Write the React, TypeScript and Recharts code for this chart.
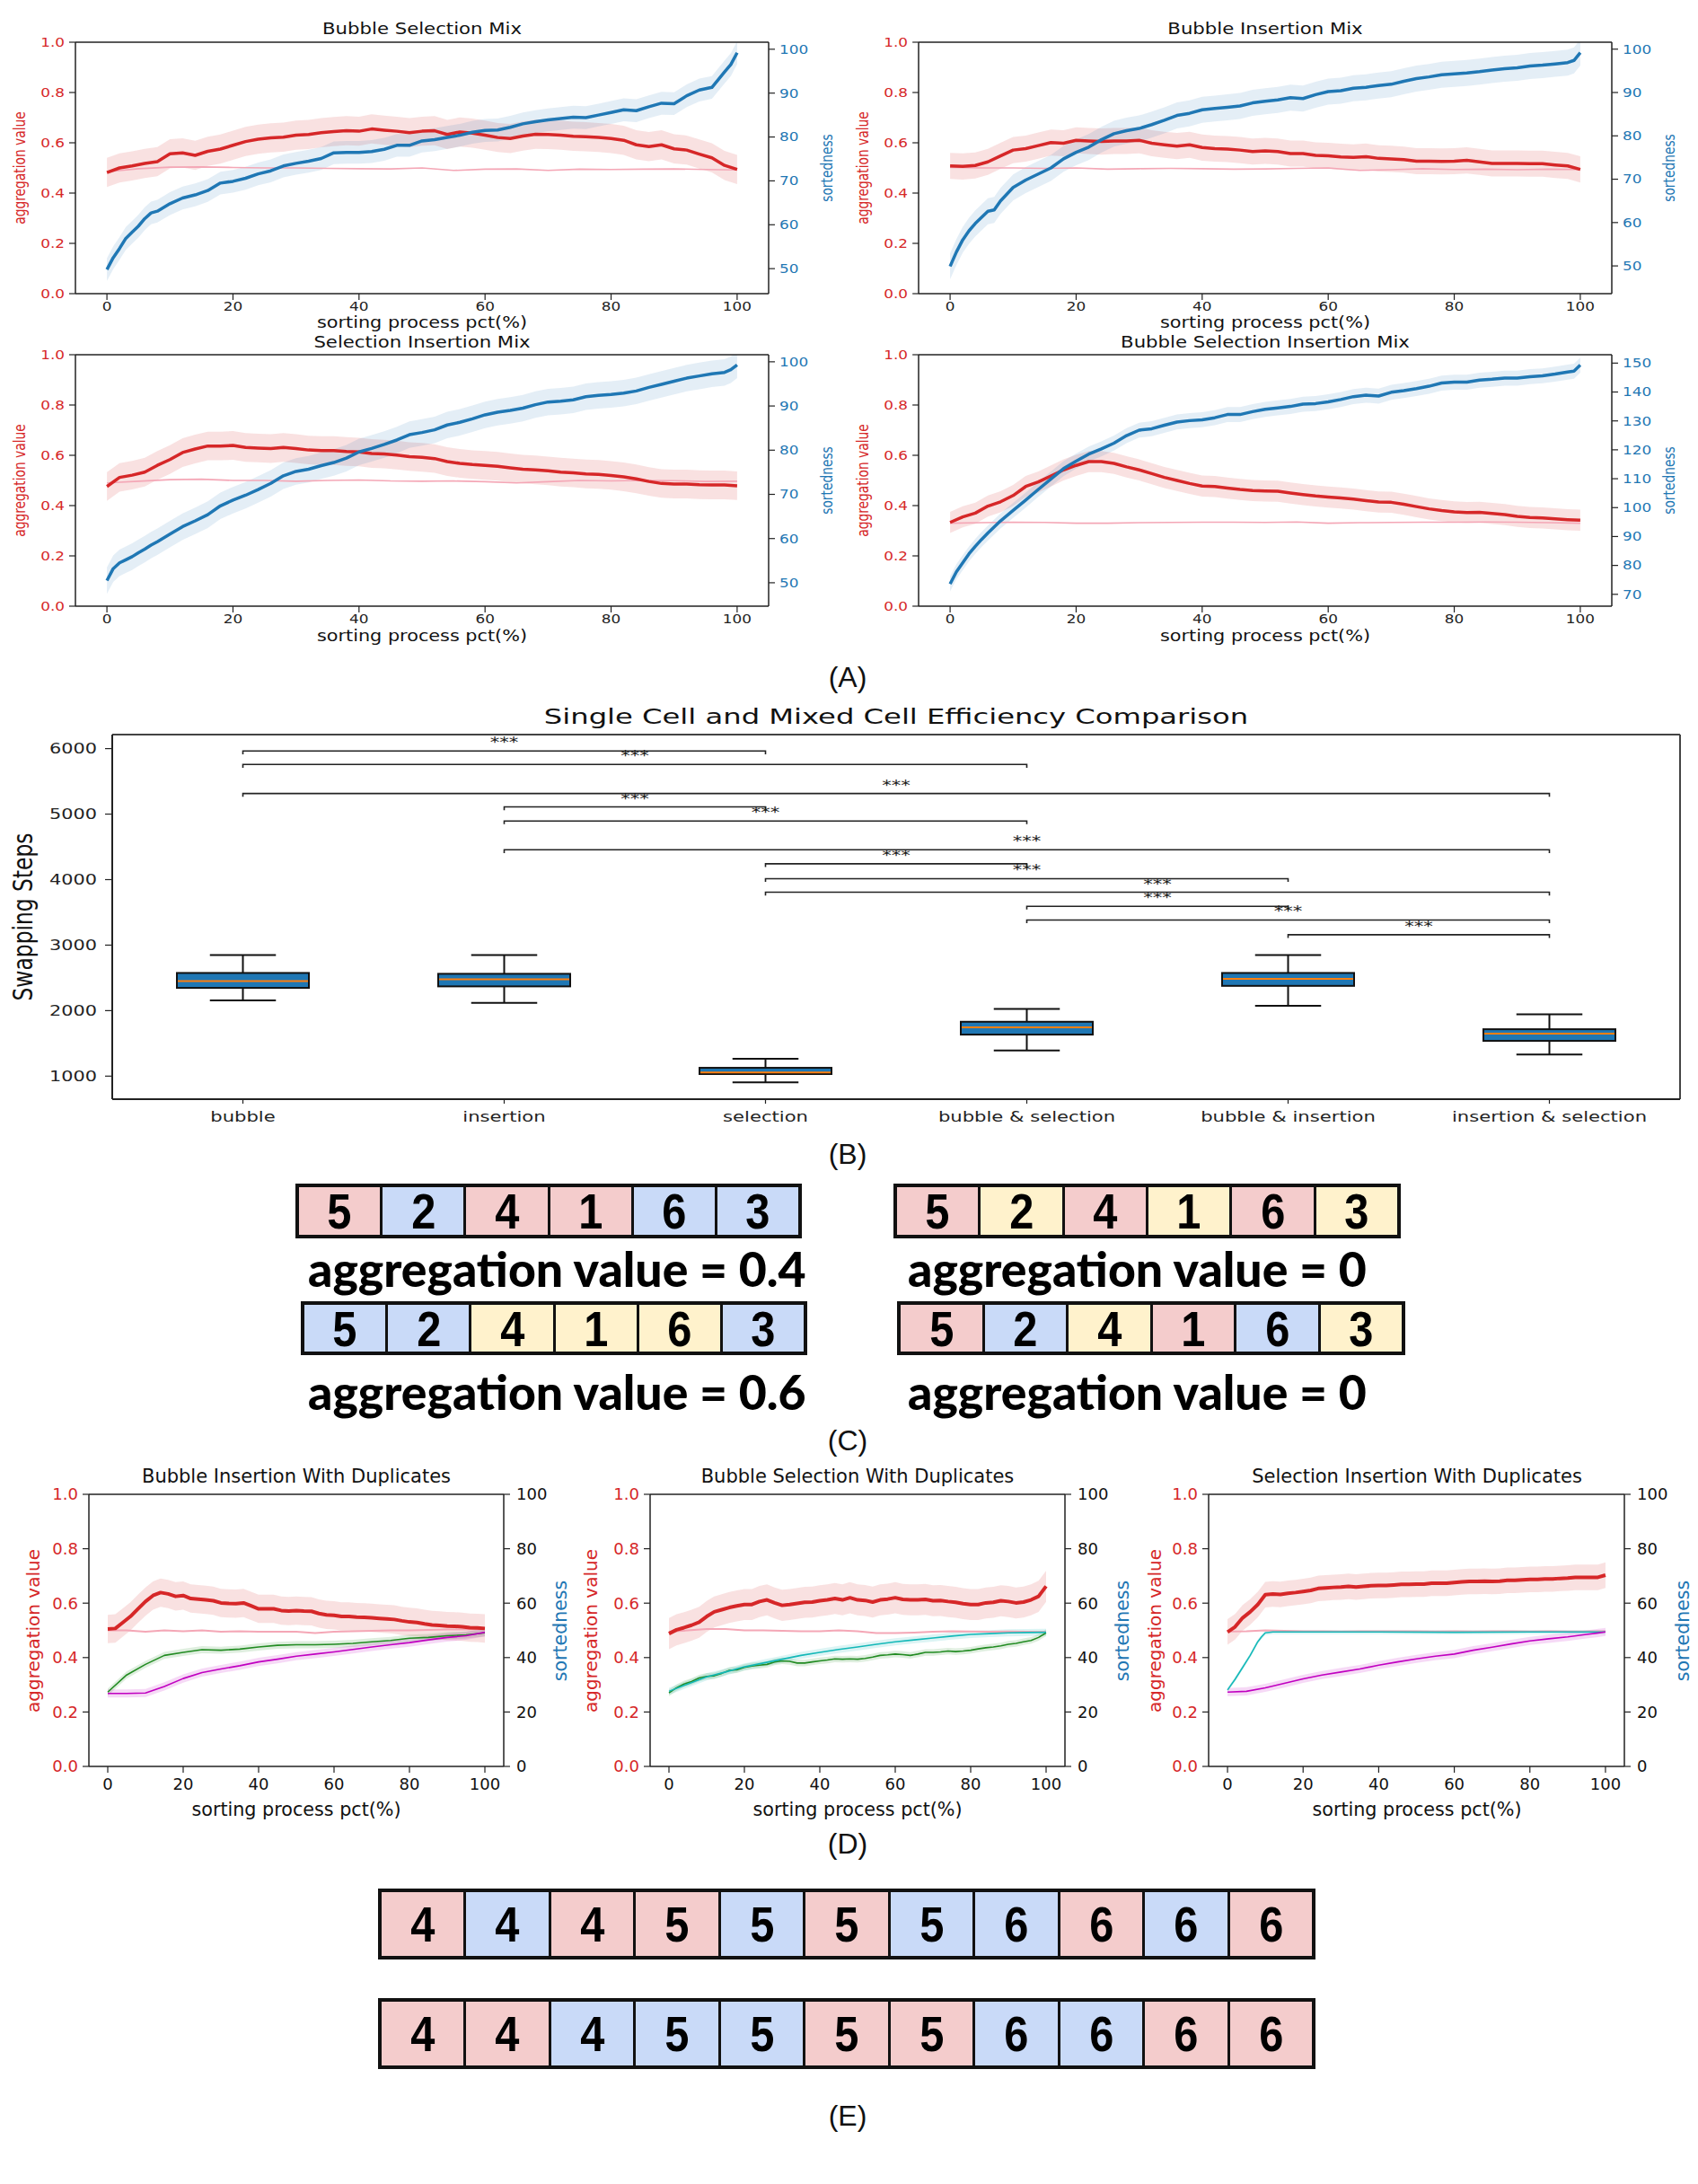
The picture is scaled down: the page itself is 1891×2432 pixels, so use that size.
import React from 'react';
import { ComposedChart, Line, Area, Bar, XAxis, YAxis, ReferenceLine } from 'recharts';

const FONT = "'DejaVu Sans', sans-serif";
const RED = '#d62728';
const BLUE = '#1f77b4';
const PINK = '#f4a7b6';
const GREEN = '#228b22';
const MAGENTA = '#c000c0';
const CYAN = '#14b8b8';
const INK = '#222';

// ---------- x grids (sorting process pct) ----------
const PCT_STEP2 = [0,2,4,6,8,10,12,14,16,18,20,22,24,26,28,30,32,34,36,38,40,42,44,46,48,50,52,54,56,58,60,62,64,66,68,70,72,74,76,78,80,82,84,86,88,90,92,94,96,98,100];
const PCT_STEP5 = [0,5,10,15,20,25,30,35,40,45,50,55,60,65,70,75,80,85,90,95,100];
const PCT_SORT = [0,1,2,3,4,5,6,7,8,10,12,14,16,18,20,22,24,26,28,30,32,34,36,38,40,42,44,46,48,50,52,54,56,58,60,62,64,66,68,70,72,74,76,78,80,82,84,86,88,90,92,94,96,98,99,100];
const PCT_CYAN_SI = [0,2,4,6,8,9,10,12,20,40,60,80,100];

const X_TICKS = [0,20,40,60,80,100];
const AGG_TICKS = [0,0.2,0.4,0.6,0.8,1];
const SORT_TICKS_100 = [50,60,70,80,90,100];
const SORT_TICKS_150 = [70,80,90,100,110,120,130,140,150];
const DUP_TICKS = [0,20,40,60,80,100];

// ---------- Panel A: Bubble Selection Mix ----------
const BS_AGG = [0.482,0.50,0.508,0.518,0.525,0.556,0.56,0.55,0.566,0.575,0.59,0.605,0.614,0.62,0.622,0.63,0.633,0.64,0.645,0.648,0.646,0.655,0.65,0.646,0.64,0.646,0.648,0.633,0.643,0.638,0.63,0.621,0.617,0.627,0.634,0.633,0.63,0.626,0.624,0.621,0.617,0.61,0.592,0.585,0.592,0.576,0.571,0.555,0.54,0.51,0.494];
const BS_BASE = [0.485,0.497,0.503,0.504,0.502,0.5,0.5,0.498,0.497,0.496,0.5,0.49,0.495,0.496,0.49,0.495,0.494,0.495,0.496,0.494,0.492];
const BS_SORT = [49.8,52.5,54.6,56.9,58.3,59.7,61.4,62.7,63.1,64.8,66.1,66.8,67.8,69.5,69.9,70.6,71.6,72.3,73.4,74.0,74.5,75.1,76.4,76.5,76.5,76.7,77.2,78.1,78.1,79.1,79.4,79.9,80.4,81.1,81.5,81.6,82.2,83.0,83.5,83.9,84.2,84.5,84.4,85.0,85.6,86.2,86.0,86.9,87.7,87.6,89.4,90.7,91.3,94.8,96.5,99.2];
const BS_AGG_SD = 0.058;
const BS_SORT_SD = 2.6;

// ---------- Panel A: Bubble Insertion Mix ----------
const BI_AGG = [0.508,0.506,0.51,0.524,0.548,0.571,0.577,0.589,0.601,0.598,0.61,0.607,0.605,0.607,0.607,0.61,0.598,0.592,0.587,0.592,0.581,0.577,0.575,0.571,0.565,0.568,0.565,0.557,0.557,0.55,0.548,0.544,0.542,0.545,0.538,0.536,0.533,0.527,0.527,0.526,0.527,0.53,0.524,0.518,0.518,0.518,0.517,0.517,0.512,0.508,0.494];
const BI_BASE = [0.502,0.5,0.5,0.498,0.5,0.495,0.497,0.498,0.497,0.495,0.496,0.498,0.5,0.49,0.493,0.497,0.494,0.495,0.493,0.495,0.494];
const BI_SORT = [49.9,53.2,56.0,58.1,59.8,61.2,62.6,62.9,65.0,68.1,69.8,71.2,72.6,74.7,76.2,77.4,79.1,80.5,81.2,81.7,82.6,83.6,84.7,85.2,86.0,86.3,86.6,86.9,87.6,88.0,88.3,88.8,88.6,89.5,90.2,90.4,91.0,91.2,91.6,91.9,92.6,93.2,93.6,94.1,94.3,94.5,94.8,95.2,95.5,95.7,96.1,96.3,96.6,96.9,97.4,99.2];
const BI_AGG_SD = 0.052;
const BI_SORT_SD = 3;

// ---------- Panel A: Selection Insertion Mix ----------
const SI_AGG = [0.476,0.512,0.521,0.533,0.56,0.583,0.611,0.625,0.637,0.637,0.639,0.631,0.629,0.627,0.631,0.627,0.621,0.619,0.619,0.615,0.613,0.607,0.605,0.601,0.595,0.592,0.587,0.575,0.568,0.563,0.56,0.556,0.55,0.545,0.542,0.538,0.533,0.53,0.526,0.524,0.52,0.514,0.506,0.496,0.488,0.486,0.486,0.483,0.482,0.482,0.479];
const SI_BASE = [0.49,0.497,0.503,0.505,0.5,0.5,0.497,0.5,0.502,0.498,0.497,0.498,0.495,0.49,0.495,0.5,0.498,0.5,0.499,0.496,0.497];
const SI_SORT = [50.5,53.2,54.5,55.2,55.9,56.8,57.6,58.5,59.3,61.0,62.7,64.0,65.4,67.4,68.7,69.8,71.1,72.5,74.2,75.2,75.7,76.5,77.2,78.2,79.6,80.4,81.3,82.3,83.5,84.0,84.6,85.7,86.3,87.1,88.0,88.6,89.0,89.5,90.3,90.9,91.1,91.4,92.1,92.4,92.6,92.9,93.4,94.2,94.9,95.6,96.3,96.8,97.3,97.6,98.2,99.3];
const SI_AGG_SD = 0.057;
const SI_SORT_SD = 3;

// ---------- Panel A: Bubble Selection Insertion Mix ----------
const BSI_AGG = [0.333,0.355,0.37,0.398,0.415,0.44,0.476,0.494,0.518,0.542,0.56,0.575,0.575,0.568,0.554,0.542,0.527,0.512,0.5,0.488,0.478,0.476,0.47,0.464,0.46,0.458,0.457,0.45,0.444,0.438,0.434,0.43,0.426,0.42,0.414,0.413,0.405,0.396,0.387,0.38,0.375,0.372,0.373,0.369,0.364,0.357,0.353,0.351,0.347,0.344,0.342];
const BSI_BASE = [0.33,0.332,0.334,0.333,0.33,0.33,0.332,0.333,0.334,0.334,0.333,0.335,0.33,0.332,0.333,0.334,0.334,0.335,0.334,0.332,0.33];
const BSI_SORT = [73.6,77.8,80.9,84.0,86.6,89.0,91.2,93.3,95.4,99.0,102.6,106.3,109.9,113.5,116.1,118.5,120.3,122.3,124.9,126.8,127.3,128.5,129.6,130.1,130.4,131.1,132.2,132.2,133.2,134.0,134.5,135.0,135.8,136.0,136.6,137.4,138.4,138.9,138.6,139.9,140.5,141.2,142.0,143.1,143.4,143.4,144.1,144.4,144.8,144.8,145.3,145.6,146.2,146.9,147.2,149.3];
const BSI_AGG_SD = 0.042;
const BSI_SORT_SD = 2.6;

// ---------- Panel B: box plot ----------
const BOX_NAMES = ['bubble','insertion','selection','bubble & selection','bubble & insertion','insertion & selection'];
const BOX_LO = [2155,2118,904,1392,2073,1329];
const BOX_Q1 = [2347,2370,1032,1634,2378,1538];
const BOX_MED = [2452,2479,1055,1744,2484,1648];
const BOX_Q3 = [2575,2562,1127,1830,2575,1716];
const BOX_HI = [2849,2849,1264,2027,2849,1945];
const B_TICKS = [1000,2000,3000,4000,5000,6000];
const SIG_FROM = [1,1,1,2,2,2,3,3,3,4,4,5];
const SIG_TO = [3,4,6,3,4,6,4,5,6,5,6,6];
const SIG_Y = [5963,5758,5315,5110,4895,4456,4241,4014,3808,3593,3384,3159];
const SIG_LABEL = ['***','***','***','***','***','***','***','***','***','***','***','***'];
const SIG_DROP = 50;

// ---------- Panel C / E: cell diagrams ----------
const CELL_COLORS: Record<string, string> = { p: '#f4cccc', b: '#c9daf8', y: '#fff2cc' };
const C_DIGITS = [5,2,4,1,6,3];
const C_ROW_COLORS = [
  ['p','b','p','p','b','b'],
  ['p','y','p','y','p','y'],
  ['b','b','y','y','y','b'],
  ['p','b','y','p','b','y'],
];
const C_VALUES = ['0.4','0','0.6','0'];
const E_DIGITS = [4,4,4,5,5,5,5,6,6,6,6];
const E_ROW_COLORS = [
  ['p','b','p','p','b','p','b','b','p','b','p'],
  ['p','p','b','b','b','p','p','b','b','p','p'],
];

// ---------- Panel D: duplicates ----------
const DBI_AGG = [0.505,0.507,0.529,0.551,0.579,0.606,0.628,0.639,0.634,0.625,0.628,0.617,0.615,0.612,0.609,0.601,0.599,0.598,0.601,0.59,0.579,0.579,0.579,0.573,0.571,0.573,0.571,0.57,0.562,0.557,0.555,0.551,0.551,0.549,0.548,0.546,0.544,0.542,0.54,0.535,0.531,0.529,0.524,0.52,0.518,0.516,0.515,0.513,0.51,0.509,0.507];
const DBI_BASE = [0.5,0.5,0.495,0.5,0.497,0.5,0.495,0.497,0.495,0.495,0.495,0.49,0.495,0.497,0.498,0.5,0.5,0.502,0.503,0.503,0.505];
const DBI_GREEN = [27.3,33.6,37.5,40.8,41.9,42.9,42.7,43.1,43.9,44.5,44.7,44.7,44.9,45.2,45.8,46.3,47.1,47.4,48.0,48.3,49.1];
const DBI_MAGENTA = [26.8,26.8,27.0,29.4,32.3,34.5,35.8,37.0,38.4,39.4,40.5,41.3,42.1,43.0,43.9,44.7,45.5,46.5,47.4,48.0,49.3];

const DBS_AGG = [0.488,0.502,0.51,0.519,0.53,0.551,0.568,0.576,0.584,0.59,0.595,0.595,0.606,0.612,0.601,0.592,0.595,0.599,0.603,0.604,0.609,0.612,0.617,0.612,0.62,0.612,0.61,0.604,0.612,0.615,0.62,0.614,0.612,0.612,0.614,0.609,0.61,0.606,0.603,0.598,0.595,0.595,0.601,0.603,0.609,0.606,0.601,0.604,0.612,0.625,0.662];
const DBS_BASE = [0.495,0.5,0.505,0.505,0.5,0.5,0.498,0.497,0.497,0.5,0.497,0.49,0.49,0.492,0.495,0.497,0.496,0.495,0.496,0.495,0.494];
const DBS_GREEN = [27.0,28.9,30.3,31.2,32.5,33.1,33.3,34.2,35.3,35.5,36.4,36.9,37.2,37.5,38.4,38.8,38.6,38.0,38.0,38.4,38.8,39.1,39.5,39.4,39.5,39.4,39.7,40.2,40.8,41.0,41.3,41.1,40.8,41.3,41.9,41.9,42.1,42.4,42.2,42.4,42.7,43.2,43.6,43.9,44.3,44.9,45.2,45.8,46.3,47.4,49.1];
const DBS_CYAN = [27.6,30.3,32.9,34.7,36.6,38.0,39.4,40.8,41.9,43.0,43.9,44.9,45.8,46.5,47.2,47.9,48.5,48.8,49.1,49.2,49.3];

const DSI_AGG = [0.494,0.513,0.546,0.568,0.595,0.631,0.634,0.632,0.636,0.639,0.643,0.647,0.654,0.656,0.658,0.659,0.662,0.659,0.662,0.664,0.665,0.665,0.667,0.669,0.669,0.67,0.67,0.673,0.673,0.673,0.676,0.678,0.68,0.68,0.681,0.68,0.681,0.684,0.684,0.686,0.687,0.687,0.689,0.689,0.691,0.692,0.695,0.695,0.695,0.695,0.703];
const DSI_BASE = [0.496,0.497,0.5,0.498,0.497,0.497,0.496,0.497,0.497,0.497,0.497,0.496,0.497,0.496,0.497,0.497,0.496,0.497,0.496,0.496,0.497];
const DSI_CYAN = [28.1,32.0,36.4,40.8,45.8,47.6,49.1,49.4,49.4,49.4,49.3,49.4,49.4];
const DSI_MAGENTA = [27.3,27.6,28.9,30.5,32.2,33.6,34.7,35.8,37.2,38.4,39.5,40.5,41.3,42.7,43.8,45.0,46.1,46.9,47.6,48.5,49.4];

const TITLES_A = ['Bubble Selection Mix','Bubble Insertion Mix','Selection Insertion Mix','Bubble Selection Insertion Mix'];
const TITLES_D = ['Bubble Insertion With Duplicates','Bubble Selection With Duplicates','Selection Insertion With Duplicates'];
const X_LABEL = 'sorting process pct(%)';
const Y_LEFT = 'aggregation value';
const Y_RIGHT = 'sortedness';

// ---------- helpers ----------
const pts = (xs: number[], ys: number[]) => xs.map((x, i) => ({ x, y: ys[i] }));
const band = (xs: number[], ys: number[], s: number) => xs.map((x, i) => ({ x, r: [ys[i] - s, ys[i] + s] }));

function makeTick(o: { size: number; sx: number; color: string; fmt: (v: any) => string; bottom: boolean }) {
  return (p: any) => (
    <text
      transform={`translate(${p.x},${p.y}) scale(${o.sx},1)`}
      x={0}
      y={0}
      dy={o.bottom ? '0.71em' : '0.355em'}
      textAnchor={p.textAnchor}
      fill={o.color}
      fontSize={o.size}
      fontFamily={FONT}
    >
      {o.fmt(p.payload.value)}
    </text>
  );
}

function Txt(props: { x: number; y: number; text: string; size: number; color?: string; family?: string; weight?: number; rot?: number; stretch?: number; anchor?: string }) {
  const { x, y, text, size, color = '#111', family = FONT, weight = 400, rot = 0, stretch = 1, anchor = 'middle' } = props;
  const tx = anchor === 'middle' ? '-50%' : anchor === 'start' ? '0%' : '-100%';
  const sc = rot ? `scale(1,${stretch})` : `scale(${stretch},1)`;
  return (
    <div
      style={{
        position: 'absolute', left: x, top: y,
        transform: `translate(${tx},-50%) rotate(${rot}deg) ${sc}`,
        fontSize: size, fontFamily: family, fontWeight: weight, color,
        whiteSpace: 'nowrap', lineHeight: 1,
      }}
    >
      {text}
    </div>
  );
}

type Ser = { xs: number[]; ys: number[]; axis: 'L' | 'R'; color: string; w: number; spread?: number; op?: number };
type Style = { tickFont: number; stretch: number; tickLen: number; xMargin: number; lMargin: number; rMargin: number; lColor: string; rColor: string; xColor: string };
type PanelCfg = {
  left: number; top: number; width: number;
  pl: number; pr: number; pt: number; pb: number; xh: number;
  rDomain: [number, number]; rTicks: number[];
  series: Ser[]; st: Style;
};

const AXL = { stroke: INK, strokeWidth: 1.5 };
const TKL = { stroke: INK, strokeWidth: 1.2 };

function DualPanel({ c }: { c: PanelCfg }) {
  const st = c.st;
  const h = c.pb - c.top + c.xh;
  return (
    <div style={{ position: 'absolute', left: c.left, top: c.top }}>
      <ComposedChart width={c.width} height={h} margin={{ top: c.pt - c.top, right: 0, bottom: 0, left: 0 }}>
        <XAxis
          type="number" dataKey="x" domain={[-5, 105]} ticks={X_TICKS} allowDataOverflow interval={0}
          height={c.xh} tickSize={st.tickLen} tickMargin={st.xMargin} axisLine={AXL} tickLine={TKL}
          tick={makeTick({ size: st.tickFont, sx: st.stretch, color: st.xColor, fmt: (v) => String(v), bottom: true })}
        />
        <YAxis
          yAxisId="L" orientation="left" type="number" domain={[0, 1]} ticks={AGG_TICKS} allowDataOverflow interval={0}
          width={c.pl - c.left} tickSize={st.tickLen} tickMargin={st.lMargin} axisLine={AXL} tickLine={TKL}
          tick={makeTick({ size: st.tickFont, sx: st.stretch, color: st.lColor, fmt: (v) => Number(v).toFixed(1), bottom: false })}
        />
        <YAxis
          yAxisId="R" orientation="right" type="number" domain={c.rDomain} ticks={c.rTicks} allowDataOverflow interval={0}
          width={c.left + c.width - c.pr} tickSize={st.tickLen} tickMargin={st.rMargin} axisLine={AXL} tickLine={TKL}
          tick={makeTick({ size: st.tickFont, sx: st.stretch, color: st.rColor, fmt: (v) => String(v), bottom: false })}
        />
        <ReferenceLine yAxisId="L" y={1} stroke={INK} strokeWidth={1.5} />
        {c.series.filter((s) => s.spread).map((s, i) => (
          <Area
            key={'a' + i} yAxisId={s.axis} data={band(s.xs, s.ys, s.spread as number)} dataKey="r" type="linear"
            stroke="none" fill={s.color} fillOpacity={s.op ?? 0.14} dot={false} activeDot={false} isAnimationActive={false}
          />
        ))}
        {c.series.filter((s) => s.w > 0).map((s, i) => (
          <Line
            key={'l' + i} yAxisId={s.axis} data={pts(s.xs, s.ys)} dataKey="y" type="linear"
            stroke={s.color} strokeWidth={s.w} strokeLinejoin="round" dot={false} activeDot={false} isAnimationActive={false}
          />
        ))}
      </ComposedChart>
    </div>
  );
}

const A_ST: Style = { tickFont: 13.7, stretch: 1.23, tickLen: 7, xMargin: 2, lMargin: 5, rMargin: 5, lColor: RED, rColor: BLUE, xColor: INK };
const D_ST: Style = { tickFont: 18, stretch: 1, tickLen: 7, xMargin: 6, lMargin: 5, rMargin: 7, lColor: RED, rColor: '#111', xColor: '#111' };

const aSeries = (agg: number[], base: number[], sort: number[], aSd: number, sSd: number): Ser[] => [
  { xs: PCT_STEP2, ys: agg, axis: 'L', color: RED, w: 0, spread: aSd, op: 0.14 },
  { xs: PCT_STEP5, ys: base, axis: 'L', color: PINK, w: 1.6 },
  { xs: PCT_STEP2, ys: agg, axis: 'L', color: RED, w: 3.5 },
  { xs: PCT_SORT, ys: sort, axis: 'R', color: BLUE, w: 3.5, spread: sSd, op: 0.12 },
];

const A_PANELS: PanelCfg[] = [
  { left: 0, top: 0, width: 945, pl: 84, pr: 856, pt: 47, pb: 327, xh: 30, rDomain: [44.3, 101.6], rTicks: SORT_TICKS_100, series: aSeries(BS_AGG, BS_BASE, BS_SORT, BS_AGG_SD, BS_SORT_SD), st: A_ST },
  { left: 945, top: 0, width: 946, pl: 1023, pr: 1795, pt: 47, pb: 327, xh: 30, rDomain: [43.6, 101.6], rTicks: SORT_TICKS_100, series: aSeries(BI_AGG, BI_BASE, BI_SORT, BI_AGG_SD, BI_SORT_SD), st: A_ST },
  { left: 0, top: 360, width: 945, pl: 84, pr: 856, pt: 395, pb: 675, xh: 30, rDomain: [44.7, 101.6], rTicks: SORT_TICKS_100, series: aSeries(SI_AGG, SI_BASE, SI_SORT, SI_AGG_SD, SI_SORT_SD), st: A_ST },
  { left: 945, top: 360, width: 946, pl: 1023, pr: 1795, pt: 395, pb: 675, xh: 30, rDomain: [65.9, 152.9], rTicks: SORT_TICKS_150, series: aSeries(BSI_AGG, BSI_BASE, BSI_SORT, BSI_AGG_SD, BSI_SORT_SD), st: A_ST },
];

const dSeries = (agg: number[], base: number[], extra: Ser[], aSd: number): Ser[] => [
  { xs: PCT_STEP2, ys: agg, axis: 'L', color: RED, w: 0, spread: aSd, op: 0.14 },
  { xs: PCT_STEP5, ys: base, axis: 'L', color: PINK, w: 2 },
  { xs: PCT_STEP2, ys: agg, axis: 'L', color: RED, w: 4 },
  ...extra,
];

const D_PANELS: PanelCfg[] = [
  {
    left: 0, top: 1610, width: 640, pl: 99, pr: 561, pt: 1664, pb: 1967, xh: 40, rDomain: [0, 100], rTicks: DUP_TICKS, st: D_ST,
    series: dSeries(DBI_AGG, DBI_BASE, [
      { xs: PCT_STEP5, ys: DBI_GREEN, axis: 'R', color: GREEN, w: 1.6, spread: 1.3, op: 0.15 },
      { xs: PCT_STEP5, ys: DBI_MAGENTA, axis: 'R', color: MAGENTA, w: 1.6, spread: 1.5, op: 0.15 },
    ], 0.052),
  },
  {
    left: 640, top: 1610, width: 620, pl: 724, pr: 1186, pt: 1664, pb: 1967, xh: 40, rDomain: [0, 100], rTicks: DUP_TICKS, st: D_ST,
    series: dSeries(DBS_AGG, DBS_BASE, [
      { xs: PCT_STEP2, ys: DBS_GREEN, axis: 'R', color: GREEN, w: 1.6, spread: 1.2, op: 0.15 },
      { xs: PCT_STEP5, ys: DBS_CYAN, axis: 'R', color: CYAN, w: 1.6, spread: 1.3, op: 0.15 },
    ], 0.057),
  },
  {
    left: 1270, top: 1610, width: 621, pl: 1346, pr: 1809, pt: 1664, pb: 1967, xh: 40, rDomain: [0, 100], rTicks: DUP_TICKS, st: D_ST,
    series: dSeries(DSI_AGG, DSI_BASE, [
      { xs: PCT_CYAN_SI, ys: DSI_CYAN, axis: 'R', color: CYAN, w: 1.6, spread: 0.8, op: 0.15 },
      { xs: PCT_STEP5, ys: DSI_MAGENTA, axis: 'R', color: MAGENTA, w: 1.6, spread: 1.5, op: 0.15 },
    ], 0.047),
  },
];

// ---------- Panel B ----------
const boxData = BOX_NAMES.map((name, i) => ({
  name, range: [BOX_LO[i], BOX_HI[i]], lo: BOX_LO[i], q1: BOX_Q1[i], med: BOX_MED[i], q3: BOX_Q3[i], hi: BOX_HI[i],
}));
const brackets = SIG_FROM.map((a, i) => [
  { x: a, y: SIG_Y[i] - SIG_DROP },
  { x: a, y: SIG_Y[i] },
  { x: SIG_TO[i], y: SIG_Y[i] },
  { x: SIG_TO[i], y: SIG_Y[i] - SIG_DROP },
]);
const starPts = SIG_FROM.map((a, i) => ({ x: (a + SIG_TO[i]) / 2, y: SIG_Y[i], label: SIG_LABEL[i] }));

function BoxShape(p: any) {
  const { x, y, width, height, payload } = p;
  if (!payload) return null;
  const top = Math.min(y, y + height);
  const hgt = Math.abs(height);
  const { lo, hi, q1, q3, med } = payload;
  const py = (v: number) => top + (hgt * (hi - v)) / (hi - lo);
  const cx = x + width / 2;
  const cap = width / 4;
  return (
    <g>
      <line x1={cx} x2={cx} y1={py(hi)} y2={py(q3)} stroke="#111" strokeWidth={2} />
      <line x1={cx} x2={cx} y1={py(q1)} y2={py(lo)} stroke="#111" strokeWidth={2} />
      <line x1={cx - cap} x2={cx + cap} y1={py(hi)} y2={py(hi)} stroke="#111" strokeWidth={2} />
      <line x1={cx - cap} x2={cx + cap} y1={py(lo)} y2={py(lo)} stroke="#111" strokeWidth={2} />
      <rect x={x} y={py(q3)} width={width} height={py(q1) - py(q3)} fill={BLUE} stroke="#111" strokeWidth={2} />
      <line x1={x + 1} x2={x + width - 1} y1={py(med)} y2={py(med)} stroke="#ff7f0e" strokeWidth={2} />
    </g>
  );
}

function BoxPanel() {
  const left = 0, top = 770, width = 1891;
  const pl = 125, pr = 1871, pt = 818, pb = 1224, xh = 40;
  return (
    <div style={{ position: 'absolute', left, top }}>
      <ComposedChart width={width} height={pb - top + xh} data={boxData} margin={{ top: pt - top, right: left + width - pr, bottom: 0, left: 0 }}>
        <XAxis
          xAxisId="cat" dataKey="name" type="category" height={xh} interval={0} tickSize={5} tickMargin={8}
          axisLine={{ stroke: INK, strokeWidth: 2 }} tickLine={TKL}
          tick={makeTick({ size: 16.5, sx: 1.28, color: INK, fmt: (v) => String(v), bottom: true })}
        />
        <XAxis xAxisId="num" dataKey="x" type="number" domain={[0.5, 6.5]} hide allowDataOverflow />
        <YAxis
          type="number" domain={[648, 6214]} ticks={B_TICKS} allowDataOverflow interval={0} width={pl - left}
          tickSize={8} tickMargin={9} axisLine={{ stroke: INK, strokeWidth: 2 }} tickLine={TKL}
          tick={makeTick({ size: 16, sx: 1.3, color: INK, fmt: (v) => String(v), bottom: false })}
        />
        <ReferenceLine xAxisId="num" y={6214} stroke="#444" strokeWidth={2} />
        <ReferenceLine xAxisId="num" x={6.5} stroke="#444" strokeWidth={2} />
        <Bar xAxisId="cat" dataKey="range" barSize={147} shape={(p: any) => <BoxShape {...p} />} isAnimationActive={false} />
        {brackets.map((d, i) => (
          <Line
            key={'br' + i} xAxisId="num" data={d} dataKey="y" type="linear" stroke="#222" strokeWidth={1.6}
            dot={false} activeDot={false} isAnimationActive={false}
          />
        ))}
        <Line
          xAxisId="num" data={starPts} dataKey="y" type="linear" stroke="none" strokeWidth={0}
          activeDot={false} isAnimationActive={false}
          dot={(p: any) => (
            <text
              key={'st' + p.index}
              transform={`translate(${p.cx},${p.cy - 4}) scale(1.28,1)`}
              textAnchor="middle" fontSize={16.5} fontFamily={FONT} fill="#1a1a1a"
            >
              {p.payload.label}
            </text>
          )}
        />
      </ComposedChart>
    </div>
  );
}

// ---------- cells ----------
function CellRow({ x, y, w, h, digits, colors }: { x: number; y: number; w: number; h: number; digits: number[]; colors: string[] }) {
  return (
    <div
      style={{
        position: 'absolute', left: x, top: y, width: w, height: h, boxSizing: 'border-box',
        border: '4px solid #111', display: 'flex', background: '#111',
      }}
    >
      {digits.map((d, i) => (
        <div
          key={i}
          style={{
            flex: 1, marginLeft: i ? 3 : 0, background: CELL_COLORS[colors[i]],
            display: 'flex', alignItems: 'center', justifyContent: 'center',
            fontFamily: "'Liberation Sans', Arial, sans-serif", fontWeight: 700, fontSize: 53, color: '#000', lineHeight: 1,
          }}
        >
          <span style={{ display: 'inline-block', transform: 'scale(0.92,1.06)' }}>{d}</span>
        </div>
      ))}
    </div>
  );
}

const C_BOXES = [
  { x: 329, y: 1318, w: 564, h: 61 },
  { x: 995, y: 1318, w: 565, h: 61 },
  { x: 335, y: 1449, w: 564, h: 60 },
  { x: 999, y: 1449, w: 566, h: 60 },
];
const C_TEXT_POS = [
  { x: 343, y: 1413 },
  { x: 1011, y: 1413 },
  { x: 343, y: 1550 },
  { x: 1011, y: 1550 },
];
const E_BOXES = [
  { x: 421, y: 2103, w: 1044, h: 79 },
  { x: 421, y: 2225, w: 1044, h: 79 },
];

const A_TEXT = [
  { tx: 470, ty: 33, xl: 359, yl: 23, yr: 922, yc: 187 },
  { tx: 1409, ty: 33, xl: 359, yl: 962, yr: 1860, yc: 187 },
  { tx: 470, ty: 382, xl: 708, yl: 23, yr: 922, yc: 535 },
  { tx: 1409, ty: 382, xl: 708, yl: 962, yr: 1860, yc: 535 },
];
const D_TEXT = [
  { tx: 330, yl: 37, yr: 624 },
  { tx: 955, yl: 658, yr: 1250 },
  { tx: 1578, yl: 1286, yr: 1874 },
];
const PANEL_LETTERS = [
  { t: '(A)', y: 754 },
  { t: '(B)', y: 1285 },
  { t: '(C)', y: 1604 },
  { t: '(D)', y: 2053 },
  { t: '(E)', y: 2356 },
];

export default function App() {
  return (
    <div style={{ position: 'absolute', left: 0, top: 0, width: 1891, height: 2432, background: '#fff', overflow: 'hidden' }}>
      {A_PANELS.map((c, i) => <DualPanel key={'A' + i} c={c} />)}
      {A_TEXT.map((t, i) => (
        <React.Fragment key={'at' + i}>
          <Txt x={t.tx} y={t.ty} text={TITLES_A[i]} size={17.4} stretch={1.22} color="#111" />
          <Txt x={t.tx} y={t.xl} text={X_LABEL} size={16.9} stretch={1.23} color="#111" />
          <Txt x={t.yl} y={t.yc} text={Y_LEFT} size={13.8} rot={-90} stretch={1.23} color={RED} />
          <Txt x={t.yr} y={t.yc} text={Y_RIGHT} size={13.8} rot={-90} stretch={1.23} color={BLUE} />
        </React.Fragment>
      ))}

      <BoxPanel />
      <Txt x={998} y={798} text="Single Cell and Mixed Cell Efficiency Comparison" size={23} stretch={1.4} color="#111" />
      <Txt x={27} y={1021} text="Swapping Steps" size={23.4} rot={-90} stretch={1.28} color="#111" />

      {C_BOXES.map((b, i) => <CellRow key={'c' + i} {...b} digits={C_DIGITS} colors={C_ROW_COLORS[i]} />)}
      {C_TEXT_POS.map((p, i) => (
        <Txt key={'ct' + i} x={p.x} y={p.y} text={`aggregation value = ${C_VALUES[i]}`} size={53.5} family="Lato, sans-serif" weight={900} anchor="start" color="#000" />
      ))}

      {D_PANELS.map((c, i) => <DualPanel key={'D' + i} c={c} />)}
      {D_TEXT.map((t, i) => (
        <React.Fragment key={'dt' + i}>
          <Txt x={t.tx} y={1644} text={TITLES_D[i]} size={21} color="#111" />
          <Txt x={t.tx} y={2015} text={X_LABEL} size={20.7} color="#111" />
          <Txt x={t.yl} y={1816} text={Y_LEFT} size={20} rot={-90} color={RED} />
          <Txt x={t.yr} y={1816} text={Y_RIGHT} size={20.5} rot={-90} color={BLUE} />
        </React.Fragment>
      ))}

      {E_BOXES.map((b, i) => <CellRow key={'e' + i} {...b} digits={E_DIGITS} colors={E_ROW_COLORS[i]} />)}

      {PANEL_LETTERS.map((l) => (
        <Txt key={l.t} x={944} y={l.y} text={l.t} size={32} family="'Liberation Sans', Arial, sans-serif" color="#111" />
      ))}
    </div>
  );
}
